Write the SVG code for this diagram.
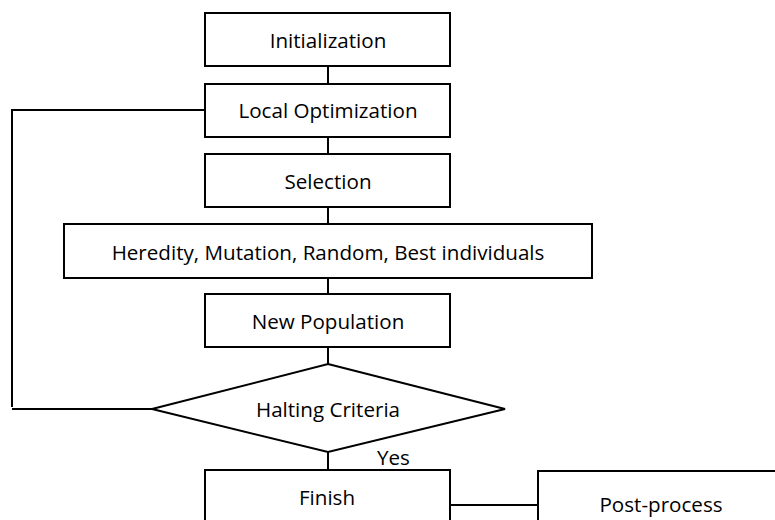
<svg xmlns="http://www.w3.org/2000/svg" width="775" height="520" viewBox="0 0 775 520">
<style>
.box{fill:#fff;stroke:#000;stroke-width:2}
.ln{fill:none;stroke:#000;stroke-width:2}
.t{font-family:"Open Sans","Liberation Sans",Arial,sans-serif;font-size:20.6px;fill:#000;text-anchor:middle}
</style>
<rect width="775" height="520" fill="#fff"/>
<g id="connectors">
<line class="ln" x1="328" y1="66" x2="328" y2="84"/>
<line class="ln" x1="328" y1="137" x2="328" y2="154"/>
<line class="ln" x1="328" y1="207" x2="328" y2="224"/>
<line class="ln" x1="328" y1="278" x2="328" y2="294"/>
<line class="ln" x1="328" y1="347" x2="328" y2="364"/>
<line class="ln" x1="328" y1="452" x2="328" y2="470"/>
<polyline class="ln" points="205,110 12,110 12,407"/>
<line class="ln" x1="12" y1="409" x2="152" y2="409"/>
<line class="ln" x1="450" y1="505" x2="538" y2="505"/>
<text class="t" x="377" y="465" style="text-anchor:start">Yes</text>
</g>
<g id="initialization">
<rect class="box" x="205" y="13" width="245" height="53"/>
<text class="t" x="328" y="48">Initialization</text>
</g>
<g id="local-optimization">
<rect class="box" x="205" y="84" width="245" height="53"/>
<text class="t" x="328" y="118">Local Optimization</text>
</g>
<g id="selection">
<rect class="box" x="205" y="154" width="245" height="53"/>
<text class="t" x="328" y="189">Selection</text>
</g>
<g id="heredity">
<rect class="box" x="64" y="224" width="528" height="54"/>
<text class="t" x="328" y="260">Heredity, Mutation, Random, Best individuals</text>
</g>
<g id="new-population">
<rect class="box" x="205" y="294" width="245" height="53"/>
<text class="t" x="328" y="329">New Population</text>
</g>
<g id="halting-criteria">
<polygon class="box" points="328,364 505,409 328,452 152,409"/>
<text class="t" x="328" y="417">Halting Criteria</text>
</g>
<g id="finish">
<rect class="box" x="205" y="470" width="245" height="70"/>
<text class="t" x="327" y="505">Finish</text>
</g>
<g id="post-process">
<rect class="box" x="538" y="471" width="260" height="70"/>
<text class="t" x="661" y="512">Post-process</text>
</g>
</svg>
